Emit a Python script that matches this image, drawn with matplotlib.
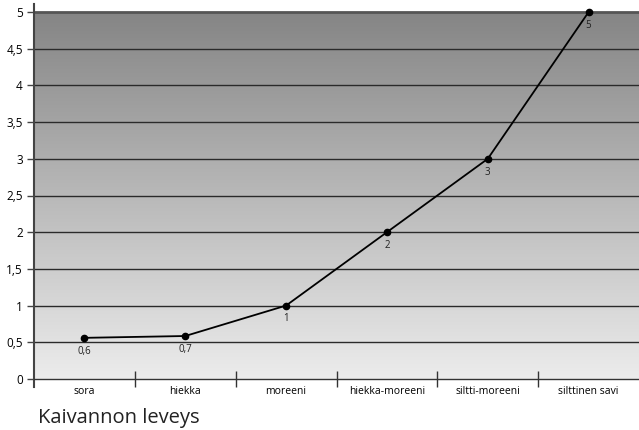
import numpy as np
import matplotlib.pyplot as plt
from matplotlib.colors import LinearSegmentedColormap

categories = ['sora', 'hiekka', 'moreeni', 'hiekka-moreeni', 'siltti-moreeni', 'silttinen savi']
values = [0.56, 0.585, 1.0, 2.0, 3.0, 5.0]
point_labels = ['0,6', '0,7', '1', '2', '3', '5']
y_ticks = [0, 0.5, 1, 1.5, 2, 2.5, 3, 3.5, 4, 4.5, 5]
y_tick_labels = ['0', '0,5', '1', '1,5', '2', '2,5', '3', '3,5', '4', '4,5', '5']
title = 'Kaivannon leveys'

plt.rcParams['font.family'] = ['Open Sans', 'DejaVu Sans']

fig = plt.figure(figsize=(6.39, 4.30), dpi=100)
ax = fig.add_axes([34 / 639, 1 - 387 / 430, 1 - 34 / 639, (387 - 4) / 430])

x = np.arange(len(categories))
ax.set_xlim(-0.5, len(categories) - 0.5)
ax.set_ylim(-0.11, 5.11)

# gradient background from 0 to 5
cmap = LinearSegmentedColormap.from_list('bg', ['#ececec', '#858585'])
grad = np.linspace(0, 1, 256).reshape(-1, 1)
ax.imshow(grad, cmap=cmap, origin='lower', aspect='auto',
          extent=(-0.5, len(categories) - 0.5, 0, 5), zorder=0)

for yv in y_ticks[1:-1]:
    ax.axhline(yv, color='#2a2a2a', linewidth=1.0, zorder=1)
ax.axhline(5, color='#555555', linewidth=2.0, zorder=1)

ax.plot(x, values, color='black', linewidth=1.3, marker='o', markersize=4.5, zorder=3)
for xi, v, lab in zip(x, values, point_labels):
    ax.annotate(lab, (xi, v), xytext=(0, -9.5), textcoords='offset points',
                ha='center', va='center', fontsize=7, color='#222222')

for s in ['top', 'right']:
    ax.spines[s].set_visible(False)
ax.spines['left'].set_color('#444444')
ax.spines['left'].set_linewidth(1.5)
ax.spines['bottom'].set_position(('data', 0))
ax.spines['bottom'].set_color('#333333')
ax.spines['bottom'].set_linewidth(1.0)

ax.set_yticks(y_ticks)
ax.set_yticklabels(y_tick_labels, fontsize=8.5)
ax.tick_params(axis='y', direction='out', length=5, width=1, color='#444444', pad=3)

ax.set_xticks(x)
ax.set_xticklabels(categories, fontsize=7.5)
ax.set_xticks(np.arange(0.5, len(categories) - 0.5), minor=True)
ax.tick_params(axis='x', which='major', length=0, pad=5)
ax.tick_params(axis='x', which='minor', direction='inout', length=11, width=1, color='#333333')

fig.text(38 / 639, 1 - 423 / 430, title, fontsize=14.5, va='baseline', ha='left', color='#222222')

fig.savefig('out.png', dpi=100)
